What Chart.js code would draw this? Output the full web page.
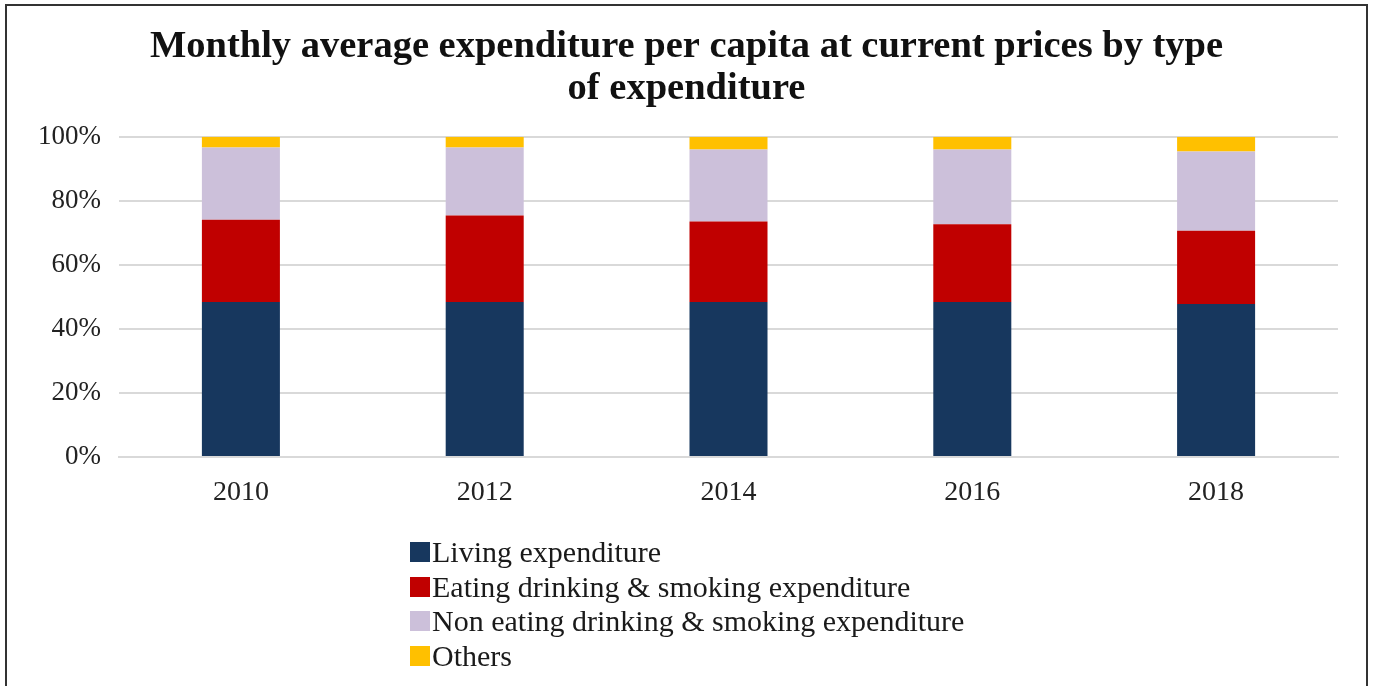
<!DOCTYPE html>
<html>
<head>
<meta charset="utf-8">
<script src="https://cdn.jsdelivr.net/npm/chart.js@4"></script>
<style>
  html,body{margin:0;padding:0;background:#fff;}
  #wrap{position:relative;width:1373px;height:686px;overflow:hidden;background:#fff;}
  #frame{position:absolute;left:5px;top:4px;width:1363px;height:700px;border:2px solid #333;box-sizing:border-box;}
  canvas{position:absolute;left:0;top:0;}
  #legend{position:absolute;left:410px;top:535px;font-family:"Liberation Serif","Times New Roman",serif;font-size:30px;color:#1a1a1a;}
  .li{display:flex;align-items:center;height:34.5px;}
  .sw{width:20px;height:20px;margin-right:2px;}
</style>
</head>
<body>
<div id="wrap">
  <div id="frame"></div>
  <canvas id="c" width="1373" height="686"></canvas>
  <div id="legend"></div>
</div>
<script>
const categories = ["2010", "2012", "2014", "2016", "2018"];
const seriesNames = [
  "Living expenditure",
  "Eating drinking & smoking expenditure",
  "Non eating drinking & smoking expenditure",
  "Others"
];
const living    = [48.4, 48.4, 48.4, 48.4, 47.8];
const eating    = [25.7, 27.0, 25.1, 24.3, 22.8];
const nonEating = [22.5, 21.2, 22.5, 23.3, 24.8];
const others    = [3.4, 3.4, 4.0, 4.0, 4.6];
const yTicks = [0, 20, 40, 60, 80, 100];
const titleLines = ["Monthly average expenditure per capita at current prices by type", "of expenditure"];

const colors = ["#17375e", "#c00000", "#ccc0da", "#ffc000"];
const seriesValues = [living, eating, nonEating, others];

const serif = '"Liberation Serif","Times New Roman",serif';

const datasets = seriesNames.map((n, i) => ({
  label: n,
  data: seriesValues[i],
  backgroundColor: colors[i],
  borderWidth: 0,
  barPercentage: 0.32,
  categoryPercentage: 1.0
}));

// centre the title over the full canvas width
const centerTitle = {
  id: "centerTitle",
  afterLayout(chart) {
    const tb = chart.titleBlock;
    if (tb) { tb.left = 0; tb.right = chart.width; tb.width = chart.width; }
  }
};

const chart = new Chart(document.getElementById("c"), {
  type: "bar",
  data: { labels: categories, datasets },
  plugins: [centerTitle],
  options: {
    responsive: false,
    animation: false,
    devicePixelRatio: 1,
    layout: { padding: { left: 0, right: 35, top: 0, bottom: 0 } },
    plugins: {
      legend: { display: false },
      tooltip: { enabled: false },
      title: {
        display: true,
        text: titleLines,
        color: "#111",
        font: { family: serif, size: 38.5, weight: "bold", lineHeight: 1.1 },
        padding: { top: 26, bottom: 26 }
      }
    },
    scales: {
      x: {
        stacked: true,
        grid: { display: false, drawTicks: false },
        border: { display: true, color: "#d9d9d9", width: 2 },
        ticks: { color: "#222", font: { family: serif, size: 28 }, padding: 19 },
        afterFit: (s) => { s.height = 229; }
      },
      y: {
        stacked: true,
        min: 0, max: 100,
        afterBuildTicks: (s) => { s.ticks = yTicks.map(v => ({ value: v })); },
        grid: { color: "#d9d9d9", lineWidth: 2, drawTicks: false },
        border: { display: false },
        ticks: { color: "#222", font: { family: serif, size: 27 }, padding: 18, callback: (v) => v + "%" },
        afterFit: (s) => { s.width = 119; }
      }
    }
  }
});

const leg = document.getElementById("legend");
chart.data.datasets.forEach(ds => {
  const row = document.createElement("div");
  row.className = "li";
  const sw = document.createElement("span");
  sw.className = "sw";
  sw.style.background = ds.backgroundColor;
  const t = document.createElement("span");
  t.textContent = ds.label;
  row.appendChild(sw); row.appendChild(t);
  leg.appendChild(row);
});
</script>
</body>
</html>
